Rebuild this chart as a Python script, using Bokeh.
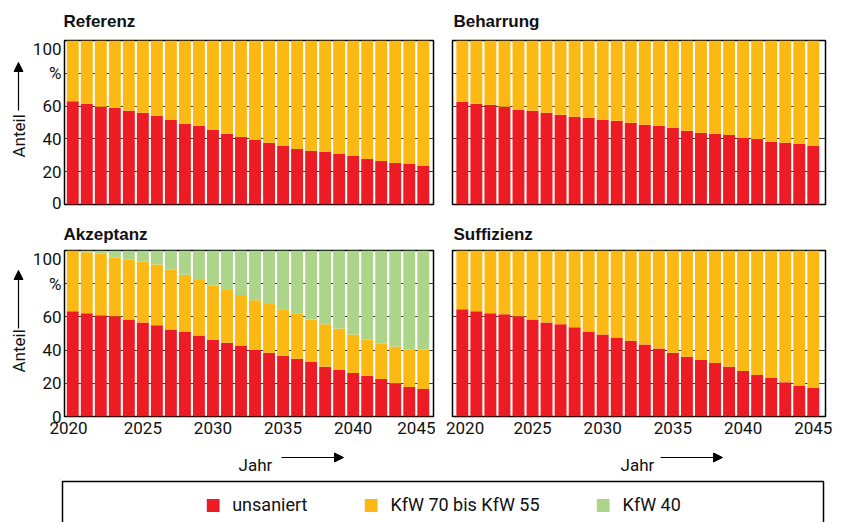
import math
from bokeh.plotting import figure
from bokeh.models import Range1d, FixedTicker, Arrow, NormalHead, Legend, LegendItem
from bokeh.core.properties import value
from bokeh.layouts import column, row
from bokeh.embed import file_html
from bokeh.resources import INLINE

# ---------------- data ----------------
years = list(range(2020, 2046))
series_names = ["unsaniert", "KfW 70 bis KfW 55", "KfW 40"]
series_colors = ["#ED1C24", "#FDB913", "#ADD58A"]
panel_titles = ["Referenz", "Beharrung", "Akzeptanz", "Suffizienz"]
y_ticks = [0, 20, 40, 60, 80, 100]
y_tick_overrides = {80: "%"}
x_ticks = [2020, 2025, 2030, 2035, 2040, 2045]
y_title = "Anteil"
x_title = "Jahr"
total_share = 100

referenz_unsaniert = [62.9, 61.4, 59.6, 59.0, 57.1, 55.9, 54.1, 51.6, 49.2, 48.0, 45.5, 43.1, 41.2,
                      39.4, 37.6, 35.7, 33.9, 32.7, 32.0, 30.8, 29.6, 27.8, 26.5, 25.3, 24.7, 23.5]
beharrung_unsaniert = [62.7, 61.4, 60.8, 59.6, 57.8, 57.1, 55.9, 54.7, 53.5, 52.9, 51.6, 51.0, 49.8,
                       48.6, 48.0, 46.7, 44.9, 43.7, 43.1, 42.4, 40.6, 40.0, 38.2, 37.6, 36.9, 35.7]
akzeptanz_unsaniert = [63.4, 62.2, 61.0, 60.4, 58.5, 56.7, 54.9, 52.4, 51.2, 48.8, 46.3, 44.5, 42.7,
                       40.2, 38.4, 36.6, 34.8, 33.0, 29.9, 28.0, 26.2, 24.4, 22.6, 20.1, 17.7, 16.5]
# upper edge of the "KfW 70 bis KfW 55" segment (cumulative share)
akzeptanz_bis_kfw55 = [100.0, 99.0, 98.0, 95.7, 94.5, 93.3, 91.5, 88.4, 85.4, 82.3, 78.7, 76.2, 73.2,
                       70.1, 67.7, 64.6, 62.2, 58.5, 55.5, 53.0, 49.4, 46.3, 43.9, 42.1, 40.2, 40.2]
suffizienz_unsaniert = [64.6, 63.4, 62.2, 61.6, 60.4, 58.5, 56.7, 55.5, 53.7, 51.2, 49.4, 47.6, 45.7,
                        43.3, 40.9, 38.4, 36.0, 34.1, 32.3, 29.9, 27.4, 25.0, 23.2, 20.7, 18.3, 17.1]

# ---------------- layout constants ----------------
TOTAL_W = 840
YL_W = 29
YL_X = 18
STRIP_L, STRIP_R = 60, 15          # all full-width strips share these borders
FONT = "Roboto"
TFONT = "Liberation Sans"
TXT = "#111111"
LEFT = dict(width=406, mbl=34, mbr=2, xr=(2019.41, 2045.73), nudge={2020: -0.3, 2045: -0.45})
RIGHT = dict(width=405, mbl=17, mbr=15, xr=(2019.3, 2045.87), nudge={2020: 0.2, 2045: 0.0})
TOP = dict(height=174, mbt=2, mbb=8)
BOT = dict(height=196, mbt=2, mbb=28)


def wide_strip(height):
    # frame spans page x 60..825, data x == page x
    s = figure(width=TOTAL_W, height=height, x_range=Range1d(STRIP_L, TOTAL_W - STRIP_R),
               y_range=Range1d(height, 0), output_backend="svg", toolbar_location=None,
               min_border_left=STRIP_L, min_border_right=STRIP_R, min_border_top=0, min_border_bottom=0)
    s.axis.visible = False
    s.grid.visible = False
    s.outline_line_color = None
    return s


def make_panel(unsaniert, kfw55_top, side, vert, show_y, show_x):
    p = figure(width=side["width"], height=vert["height"], x_range=Range1d(*side["xr"]),
               y_range=Range1d(0, 100), output_backend="svg", toolbar_location=None,
               min_border_left=side["mbl"], min_border_right=side["mbr"],
               min_border_top=vert["mbt"], min_border_bottom=vert["mbb"])
    p.outline_line_color = "black"
    p.outline_line_width = 1.5
    p.xgrid.visible = False
    p.ygrid.grid_line_color = "#3a3a3a"
    p.ygrid.grid_line_width = 1
    p.yaxis.ticker = FixedTicker(ticks=y_ticks)
    p.yaxis.major_label_overrides = y_tick_overrides
    for ax in (p.xaxis, p.yaxis):
        ax.axis_line_color = None
        ax.major_tick_line_color = None
        ax.minor_tick_line_color = None
        ax.major_tick_out = 0
        ax.major_tick_in = 0
        ax.major_label_text_font = FONT
        ax.major_label_text_font_size = "17px"
        ax.major_label_text_color = TXT
    p.yaxis.major_label_standoff = 3
    p.xaxis.major_label_standoff = 5
    tick_pos = [t + side["nudge"].get(t, 0.0) for t in x_ticks]
    p.xaxis.ticker = FixedTicker(ticks=tick_pos)
    p.xaxis.major_label_overrides = {tp: str(t) for tp, t in zip(tick_pos, x_ticks)}
    p.yaxis.visible = show_y
    p.xaxis.visible = show_x

    bw = 0.85
    p.vbar(x=years, bottom=0, top=unsaniert, width=bw, fill_color=series_colors[0], line_color=None)
    if kfw55_top is None:
        p.vbar(x=years, bottom=unsaniert, top=total_share, width=bw, fill_color=series_colors[1], line_color=None)
    else:
        p.vbar(x=years, bottom=unsaniert, top=kfw55_top, width=bw, fill_color=series_colors[1], line_color=None)
        p.vbar(x=years, bottom=kfw55_top, top=total_share, width=bw, fill_color=series_colors[2], line_color=None)
    return p


def title_strip(height, baseline, names):
    s = wide_strip(height)
    s.text(x=[63, 453], y=[baseline, baseline], text=names, text_font=value(TFONT),
           text_font_size="17px", text_font_style="bold", text_align="left",
           text_baseline="alphabetic", text_color=TXT)
    return s


def ylabel_strip(vert, text_bottom, arrow_from, arrow_to):
    # same top/bottom borders as the panels in the row, so the frames line up;
    # data y == pixel distance from the strip's top edge
    h = vert["height"]
    s = figure(width=YL_W, height=h, x_range=Range1d(0, YL_W),
               y_range=Range1d(h - vert["mbb"], vert["mbt"]),
               output_backend="svg", toolbar_location=None,
               min_border_left=0, min_border_right=0,
               min_border_top=vert["mbt"], min_border_bottom=vert["mbb"])
    s.axis.visible = False
    s.grid.visible = False
    s.outline_line_color = None
    s.text(x=[YL_X], y=[text_bottom], text=[y_title], angle=math.pi / 2, text_font=value(FONT),
           text_font_size="17px", text_align="left", text_baseline="middle", text_color=TXT)
    s.add_layout(Arrow(x_start=YL_X, y_start=arrow_from, x_end=YL_X, y_end=arrow_to, line_width=1.2,
                       line_color="black",
                       end=NormalHead(size=9, fill_color="black", line_color="black", line_width=1)))
    return s


# titles
t1 = title_strip(38, 21, panel_titles[0:2])
t2 = title_strip(36, 22, panel_titles[2:4])

# panels
p_ref = make_panel(referenz_unsaniert, None, LEFT, TOP, True, False)
p_beh = make_panel(beharrung_unsaniert, None, RIGHT, TOP, False, False)
p_akz = make_panel(akzeptanz_unsaniert, akzeptanz_bis_kfw55, LEFT, BOT, True, True)
p_suf = make_panel(suffizienz_unsaniert, None, RIGHT, BOT, False, True)

yl1 = ylabel_strip(TOP, 119, 72, 24)
yl2 = ylabel_strip(BOT, 124, 80, 22)

# x label strip
xs = wide_strip(34)
xs.text(x=[238, 620], y=[20, 20], text=[x_title, x_title], text_font=value(FONT), text_font_size="17px",
        text_align="left", text_baseline="alphabetic", text_color=TXT)
for a0, a1 in ((281, 343), (660, 722)):
    xs.add_layout(Arrow(x_start=a0, y_start=13, x_end=a1, y_end=13, line_width=1.2, line_color="black",
                        end=NormalHead(size=9, fill_color="black", line_color="black", line_width=1)))

# legend strip
LEG_H = 44
pl = wide_strip(LEG_H)
pl.quad(left=62, right=823, top=3, bottom=80, fill_color=None, line_color="black", line_width=1.5)
items = []
for name, col in zip(series_names, series_colors):
    r = pl.vbar(x=[-500], top=[1], bottom=[0], width=1, fill_color=col, line_color=None)
    items.append(LegendItem(label=name, renderers=[r], index=0))
leg = Legend(items=items, orientation="horizontal", location="bottom_center", border_line_color=None,
             background_fill_alpha=0, glyph_width=16, glyph_height=16, label_standoff=12, spacing=55,
             padding=0, margin=7, label_text_font=FONT, label_text_font_size="18px",
             label_text_color=TXT)
pl.add_layout(leg, "center")

layout = column(t1, row(yl1, p_ref, p_beh), t2, row(yl2, p_akz, p_suf), xs, pl)

with open("out.html", "w") as f:
    f.write(file_html(layout, INLINE))
